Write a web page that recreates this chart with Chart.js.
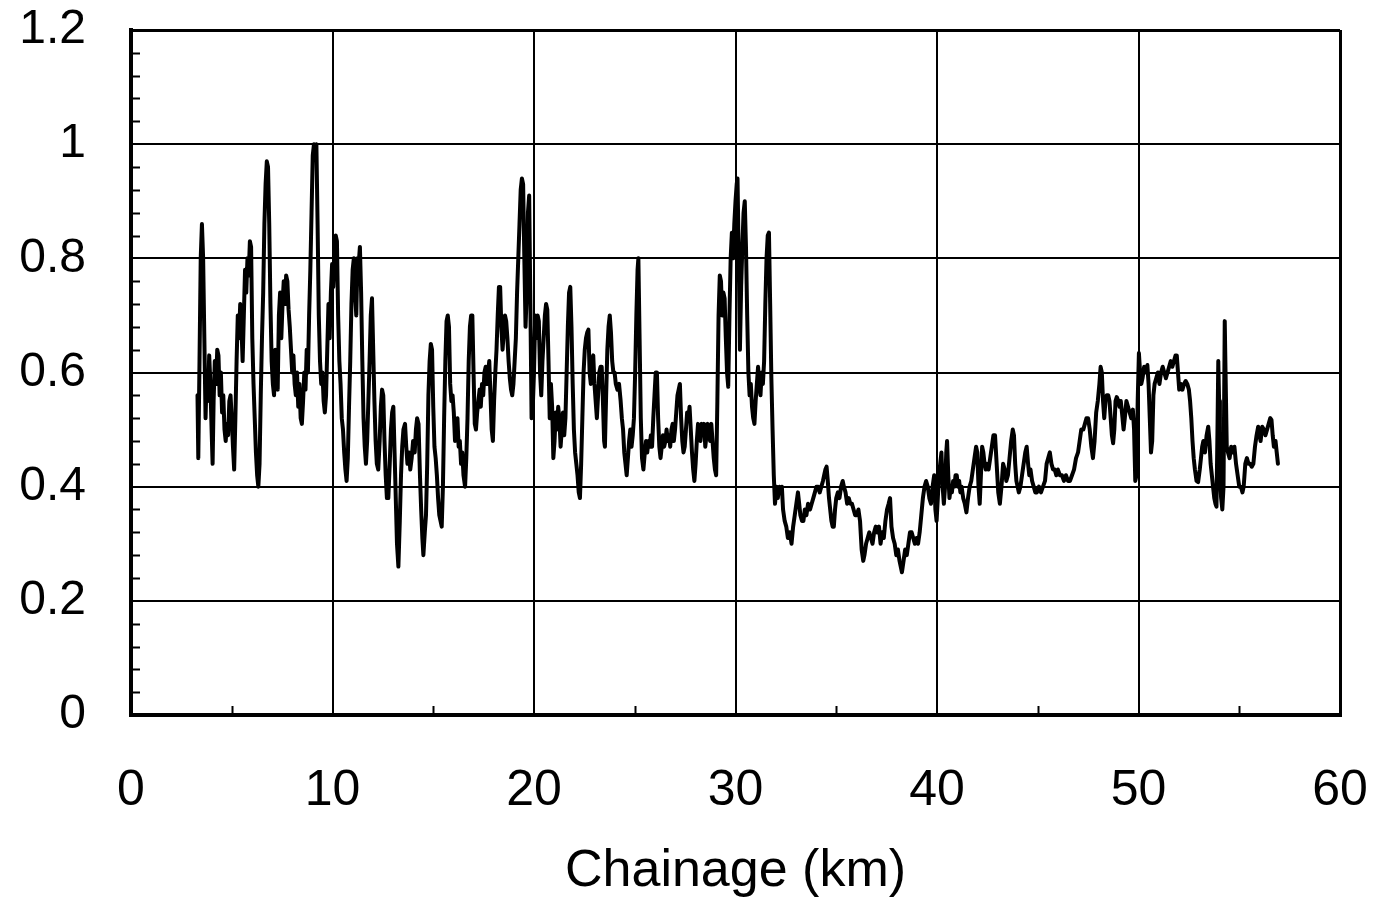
<!DOCTYPE html>
<html>
<head>
<meta charset="utf-8">
<script src="https://cdn.jsdelivr.net/npm/chart.js@4/dist/chart.umd.min.js"></script>
<style>
html,body{margin:0;padding:0;background:#ffffff;}
#wrap{width:1374px;height:904px;}
</style>
</head>
<body>
<div id="wrap"><canvas id="c" width="1374" height="904"></canvas></div>
<script>
// ---- data ----
const chainageKm = [
3.30,3.34,3.40,3.46,3.52,3.58,3.64,3.70,3.76,3.82,3.88,3.94,4.00,4.05,4.10,4.16,4.22,4.28,4.34,4.40,
4.46,4.52,4.58,4.64,4.70,4.76,4.82,4.88,4.94,5.00,5.06,5.12,5.18,5.24,5.30,5.36,5.42,5.48,5.54,5.60,
5.66,5.72,5.78,5.84,5.90,5.96,6.02,6.08,6.14,6.20,6.26,6.32,6.38,6.44,6.50,6.56,6.62,6.68,6.74,6.80,
6.86,6.92,6.98,7.04,7.10,7.16,7.22,7.28,7.34,7.40,7.46,7.52,7.58,7.64,7.70,7.76,7.82,7.88,7.94,8.00,
8.06,8.12,8.18,8.24,8.30,8.36,8.42,8.48,8.54,8.60,8.66,8.72,8.78,8.84,8.90,8.96,9.02,9.08,9.14,9.20,
9.26,9.32,9.38,9.44,9.50,9.56,9.62,9.68,9.74,9.80,9.86,9.92,9.98,10.04,10.10,10.16,10.22,10.28,10.34,10.40,
10.46,10.52,10.58,10.64,10.70,10.76,10.82,10.88,10.94,11.00,11.06,11.12,11.18,11.24,11.30,11.36,11.42,11.48,11.54,11.60,
11.66,11.72,11.78,11.84,11.90,11.96,12.02,12.08,12.14,12.20,12.27,12.34,12.40,12.46,12.52,12.58,12.64,12.70,12.77,12.84,
12.90,12.96,13.02,13.08,13.14,13.20,13.27,13.34,13.40,13.46,13.52,13.60,13.66,13.72,13.80,13.86,13.93,14.00,14.08,14.14,
14.20,14.27,14.34,14.40,14.46,14.51,14.58,14.64,14.70,14.76,14.82,14.88,14.94,15.00,15.06,15.12,15.18,15.24,15.30,15.36,
15.42,15.48,15.54,15.60,15.66,15.72,15.78,15.84,15.90,15.96,16.02,16.08,16.14,16.20,16.26,16.32,16.38,16.44,16.50,16.58,
16.64,16.70,16.76,16.82,16.88,16.94,17.00,17.06,17.12,17.18,17.24,17.30,17.36,17.42,17.48,17.54,17.60,17.66,17.72,17.78,
17.84,17.90,17.96,18.02,18.08,18.14,18.20,18.26,18.32,18.38,18.44,18.50,18.56,18.62,18.68,18.74,18.80,18.86,18.92,18.98,
19.04,19.10,19.16,19.22,19.28,19.34,19.40,19.46,19.52,19.58,19.64,19.70,19.76,19.82,19.88,19.94,20.00,20.06,20.12,20.18,
20.24,20.30,20.36,20.42,20.48,20.54,20.60,20.66,20.72,20.78,20.84,20.90,20.96,21.02,21.08,21.14,21.20,21.26,21.32,21.38,
21.44,21.50,21.56,21.62,21.68,21.74,21.80,21.86,21.92,21.98,22.04,22.10,22.16,22.22,22.28,22.34,22.40,22.46,22.52,22.58,
22.64,22.70,22.76,22.82,22.88,22.94,23.00,23.06,23.12,23.18,23.24,23.30,23.36,23.42,23.48,23.52,23.58,23.64,23.70,23.76,
23.82,23.88,23.94,24.00,24.06,24.14,24.22,24.30,24.36,24.42,24.48,24.54,24.60,24.66,24.72,24.78,24.84,24.90,24.96,25.02,
25.08,25.14,25.18,25.24,25.30,25.36,25.43,25.50,25.56,25.62,25.68,25.74,25.80,25.86,25.92,25.98,26.04,26.10,26.16,26.22,
26.28,26.34,26.40,26.46,26.52,26.58,26.64,26.70,26.76,26.82,26.88,26.94,27.00,27.06,27.12,27.18,27.24,27.30,27.36,27.42,
27.48,27.54,27.60,27.66,27.72,27.78,27.84,27.90,27.96,28.02,28.08,28.14,28.20,28.26,28.32,28.38,28.44,28.50,28.56,28.62,
28.68,28.74,28.80,28.86,28.92,28.98,29.04,29.10,29.16,29.22,29.28,29.34,29.40,29.46,29.52,29.58,29.64,29.70,29.76,29.82,
29.88,29.94,30.00,30.06,30.10,30.16,30.22,30.28,30.34,30.40,30.46,30.52,30.58,30.64,30.70,30.76,30.82,30.88,30.94,31.00,
31.06,31.12,31.18,31.24,31.30,31.36,31.42,31.48,31.54,31.60,31.66,31.72,31.78,31.84,31.90,31.96,32.04,32.10,32.18,32.24,
32.30,32.36,32.44,32.52,32.60,32.70,32.78,32.86,32.94,33.02,33.10,33.16,33.22,33.30,33.37,33.44,33.52,33.60,33.70,33.78,
33.86,33.94,34.02,34.10,34.18,34.26,34.34,34.40,34.46,34.52,34.58,34.64,34.70,34.76,34.82,34.88,34.94,35.00,35.08,35.16,
35.24,35.32,35.38,35.46,35.54,35.62,35.70,35.78,35.86,35.94,36.02,36.10,36.18,36.26,36.34,36.40,36.48,36.56,36.64,36.72,
36.80,36.88,36.96,37.04,37.12,37.20,37.28,37.36,37.44,37.52,37.60,37.67,37.74,37.82,37.90,37.98,38.06,38.14,38.20,38.26,
38.34,38.42,38.50,38.58,38.66,38.74,38.82,38.90,38.98,39.06,39.14,39.22,39.30,39.38,39.46,39.54,39.62,39.70,39.78,39.86,
39.92,39.98,40.04,40.10,40.16,40.22,40.28,40.34,40.40,40.46,40.50,40.56,40.62,40.68,40.74,40.80,40.86,40.92,40.98,41.04,
41.10,41.16,41.22,41.30,41.38,41.46,41.54,41.62,41.70,41.78,41.86,41.94,42.00,42.06,42.12,42.18,42.24,42.30,42.36,42.42,
42.48,42.56,42.64,42.72,42.80,42.88,42.96,43.04,43.12,43.20,43.28,43.36,43.44,43.52,43.60,43.68,43.76,43.82,43.88,43.94,
44.00,44.06,44.14,44.22,44.30,44.38,44.45,44.52,44.58,44.64,44.72,44.80,44.88,44.96,45.06,45.16,45.26,45.36,45.44,45.52,
45.60,45.68,45.76,45.84,45.92,46.00,46.10,46.20,46.30,46.40,46.50,46.60,46.70,46.80,46.90,47.00,47.08,47.16,47.26,47.34,
47.42,47.50,47.58,47.66,47.74,47.82,47.90,47.98,48.06,48.12,48.18,48.24,48.30,48.36,48.42,48.50,48.56,48.62,48.68,48.74,
48.80,48.86,48.92,49.00,49.06,49.12,49.18,49.26,49.32,49.40,49.48,49.56,49.64,49.72,49.78,49.84,49.90,49.96,50.02,50.08,
50.14,50.20,50.28,50.36,50.44,50.50,50.56,50.62,50.68,50.74,50.80,50.88,50.96,51.04,51.12,51.20,51.28,51.36,51.44,51.52,
51.60,51.68,51.76,51.84,51.90,51.96,52.02,52.10,52.18,52.26,52.34,52.42,52.50,52.56,52.62,52.68,52.74,52.80,52.88,52.96,
53.04,53.10,53.16,53.22,53.30,53.38,53.46,53.52,53.58,53.64,53.70,53.76,53.82,53.87,53.92,53.96,54.00,54.04,54.10,54.16,
54.22,54.28,54.32,54.38,54.44,54.52,54.60,54.68,54.76,54.84,54.92,55.00,55.08,55.16,55.22,55.30,55.38,55.46,55.54,55.62,
55.70,55.78,55.86,55.94,56.00,56.06,56.14,56.22,56.30,56.38,56.46,56.54,56.60,56.66,56.72,56.80,56.86,56.92
];
const ratioValues = [
0.56,0.45,0.62,0.80,0.86,0.80,0.66,0.52,0.60,0.55,0.63,0.58,0.50,0.44,0.55,0.62,0.58,0.64,0.63,0.56,
0.60,0.53,0.56,0.50,0.48,0.51,0.49,0.55,0.56,0.52,0.47,0.43,0.52,0.62,0.70,0.66,0.72,0.68,0.62,0.70,
0.78,0.74,0.80,0.77,0.83,0.82,0.66,0.58,0.52,0.46,0.42,0.40,0.44,0.56,0.66,0.74,0.86,0.93,0.97,0.96,
0.86,0.72,0.62,0.58,0.56,0.64,0.62,0.57,0.70,0.74,0.66,0.72,0.76,0.72,0.77,0.76,0.71,0.68,0.64,0.60,
0.63,0.58,0.56,0.60,0.54,0.58,0.52,0.51,0.55,0.60,0.57,0.64,0.60,0.70,0.78,0.88,0.98,1.00,0.99,1.00,
0.86,0.70,0.62,0.58,0.60,0.55,0.53,0.56,0.64,0.72,0.66,0.74,0.79,0.75,0.80,0.84,0.83,0.70,0.62,0.58,
0.52,0.50,0.46,0.43,0.41,0.45,0.54,0.62,0.72,0.78,0.80,0.74,0.70,0.80,0.79,0.82,0.74,0.62,0.52,0.47,
0.44,0.48,0.55,0.62,0.70,0.73,0.64,0.55,0.48,0.44,0.43,0.48,0.54,0.57,0.56,0.48,0.42,0.38,0.38,0.44,
0.50,0.53,0.54,0.46,0.38,0.30,0.26,0.34,0.42,0.47,0.50,0.51,0.47,0.44,0.46,0.43,0.45,0.48,0.46,0.50,
0.52,0.51,0.42,0.36,0.31,0.28,0.32,0.35,0.44,0.56,0.62,0.65,0.64,0.54,0.47,0.45,0.42,0.38,0.35,0.34,
0.33,0.40,0.52,0.62,0.69,0.70,0.68,0.58,0.55,0.56,0.53,0.48,0.50,0.52,0.47,0.48,0.44,0.46,0.42,0.40,
0.45,0.52,0.62,0.68,0.70,0.70,0.60,0.51,0.50,0.53,0.55,0.57,0.54,0.58,0.56,0.60,0.61,0.58,0.60,0.62,
0.56,0.50,0.48,0.55,0.60,0.64,0.70,0.75,0.75,0.68,0.64,0.67,0.70,0.69,0.66,0.62,0.59,0.57,0.56,0.58,
0.62,0.66,0.74,0.80,0.86,0.92,0.94,0.93,0.80,0.68,0.74,0.88,0.91,0.72,0.52,0.54,0.60,0.70,0.66,0.70,
0.69,0.60,0.56,0.62,0.66,0.70,0.72,0.71,0.62,0.52,0.58,0.54,0.45,0.48,0.53,0.50,0.54,0.52,0.47,0.50,
0.53,0.49,0.52,0.60,0.68,0.74,0.75,0.68,0.58,0.50,0.46,0.44,0.42,0.39,0.38,0.44,0.52,0.60,0.64,0.66,
0.67,0.675,0.60,0.58,0.62,0.63,0.58,0.55,0.52,0.56,0.60,0.61,0.61,0.55,0.48,0.47,0.56,0.64,0.68,0.70,
0.67,0.62,0.60,0.60,0.58,0.57,0.58,0.55,0.52,0.50,0.46,0.44,0.42,0.45,0.48,0.50,0.47,0.49,0.52,0.60,
0.70,0.78,0.80,0.66,0.52,0.45,0.43,0.46,0.48,0.46,0.48,0.47,0.49,0.47,0.52,0.56,0.60,0.60,0.52,0.47,
0.45,0.47,0.49,0.47,0.48,0.50,0.48,0.49,0.47,0.50,0.51,0.48,0.50,0.53,0.56,0.57,0.58,0.52,0.48,0.46,
0.47,0.50,0.53,0.52,0.54,0.50,0.46,0.43,0.41,0.44,0.48,0.51,0.50,0.48,0.51,0.49,0.51,0.47,0.49,0.51,
0.50,0.48,0.51,0.48,0.45,0.43,0.42,0.55,0.70,0.77,0.76,0.70,0.74,0.73,0.66,0.60,0.575,0.70,0.80,0.845,
0.80,0.86,0.90,0.93,0.94,0.80,0.64,0.75,0.82,0.88,0.90,0.82,0.70,0.60,0.56,0.58,0.54,0.52,0.51,0.55,
0.58,0.61,0.58,0.56,0.60,0.58,0.62,0.72,0.80,0.84,0.845,0.72,0.59,0.50,0.42,0.37,0.40,0.38,0.40,0.39,
0.40,0.36,0.34,0.33,0.31,0.32,0.30,0.33,0.35,0.37,0.39,0.37,0.35,0.34,0.34,0.36,0.35,0.37,0.36,0.37,
0.38,0.39,0.40,0.40,0.39,0.40,0.41,0.42,0.43,0.435,0.41,0.38,0.36,0.34,0.33,0.33,0.36,0.38,0.39,0.38,
0.40,0.41,0.40,0.39,0.37,0.38,0.37,0.37,0.36,0.35,0.35,0.36,0.34,0.29,0.27,0.28,0.30,0.31,0.32,0.31,
0.30,0.32,0.33,0.32,0.33,0.30,0.32,0.31,0.34,0.36,0.37,0.38,0.33,0.31,0.30,0.28,0.29,0.27,0.26,0.25,
0.27,0.29,0.28,0.30,0.32,0.32,0.31,0.30,0.31,0.30,0.32,0.35,0.38,0.40,0.41,0.40,0.38,0.37,0.40,0.42,
0.36,0.34,0.38,0.42,0.44,0.46,0.40,0.37,0.40,0.46,0.48,0.42,0.38,0.40,0.39,0.41,0.40,0.42,0.42,0.40,
0.41,0.39,0.40,0.38,0.37,0.355,0.38,0.40,0.41,0.43,0.45,0.47,0.46,0.40,0.37,0.42,0.47,0.46,0.44,0.43,
0.44,0.43,0.45,0.47,0.49,0.49,0.44,0.39,0.37,0.40,0.44,0.43,0.41,0.42,0.45,0.48,0.50,0.49,0.44,0.41,
0.40,0.39,0.40,0.42,0.44,0.46,0.47,0.44,0.42,0.43,0.41,0.40,0.39,0.39,0.40,0.39,0.40,0.41,0.44,0.45,
0.46,0.44,0.43,0.43,0.42,0.43,0.42,0.42,0.41,0.42,0.41,0.41,0.42,0.43,0.45,0.46,0.48,0.50,0.50,0.51,
0.52,0.52,0.50,0.47,0.45,0.48,0.53,0.55,0.58,0.61,0.60,0.55,0.52,0.55,0.56,0.56,0.55,0.52,0.49,0.476,
0.50,0.55,0.557,0.55,0.54,0.55,0.53,0.50,0.52,0.55,0.54,0.53,0.52,0.535,0.50,0.41,0.42,0.55,0.634,0.60,
0.58,0.59,0.61,0.60,0.613,0.58,0.52,0.46,0.48,0.56,0.58,0.59,0.60,0.58,0.60,0.61,0.60,0.59,0.60,0.61,
0.62,0.61,0.62,0.63,0.63,0.60,0.57,0.58,0.57,0.58,0.585,0.58,0.57,0.55,0.52,0.48,0.45,0.43,0.41,0.408,
0.43,0.45,0.47,0.48,0.46,0.49,0.505,0.48,0.44,0.42,0.40,0.38,0.37,0.365,0.50,0.62,0.55,0.42,0.38,0.36,
0.40,0.69,0.60,0.47,0.46,0.45,0.47,0.46,0.47,0.44,0.42,0.40,0.40,0.39,0.40,0.44,0.45,0.44,0.44,0.435,
0.44,0.47,0.49,0.505,0.49,0.48,0.505,0.50,0.49,0.50,0.51,0.52,0.517,0.49,0.47,0.48,0.46,0.44
];
const xTickValues = [0, 10, 20, 30, 40, 50, 60];
const xMinorTickValues = [5, 15, 25, 35, 45, 55];
const yTickValues = [0, 0.2, 0.4, 0.6, 0.8, 1, 1.2];
const yTickLabels = ['0', '0.2', '0.4', '0.6', '0.8', '1', '1.2'];
const yMinorTickValues = [0.04,0.08,0.12,0.16,0.24,0.28,0.32,0.36,0.44,0.48,0.52,0.56,0.64,0.68,0.72,0.76,0.84,0.88,0.92,0.96,1.04,1.08,1.12,1.16];
const xAxisTitle = 'Chainage (km)';

const points = chainageKm.map((km, i) => ({ x: km, y: ratioValues[i] }));

const minorTicks = {
  id: 'minorTicks',
  afterDatasetsDraw(chart) {
    const { ctx, chartArea, scales } = chart;
    ctx.save();
    ctx.strokeStyle = '#000';
    ctx.lineWidth = 2;
    ctx.beginPath();
    yMinorTickValues.forEach(v => {
      const py = Math.round(scales.y.getPixelForValue(v)) + 0.5;
      ctx.moveTo(chartArea.left, py);
      ctx.lineTo(chartArea.left + 9, py);
    });
    xMinorTickValues.forEach(v => {
      const px = Math.round(scales.x.getPixelForValue(v)) + 0.5;
      ctx.moveTo(px, chartArea.bottom);
      ctx.lineTo(px, chartArea.bottom - 9);
    });
    ctx.stroke();
    ctx.restore();
  }
};

const FONT = "'Liberation Sans', Arial, Helvetica, sans-serif";

new Chart(document.getElementById('c'), {
  type: 'line',
  data: {
    datasets: [{
      data: points,
      borderColor: '#000',
      borderWidth: 4,
      borderJoinStyle: 'round',
      borderCapStyle: 'round',
      pointRadius: 0,
      tension: 0,
      fill: false
    }]
  },
  options: {
    responsive: false,
    animation: false,
    devicePixelRatio: 1,
    layout: { padding: { left: 0, right: 34, top: 30, bottom: 0 } },
    plugins: { legend: { display: false }, tooltip: { enabled: false }, title: { display: false } },
    scales: {
      x: {
        type: 'linear',
        min: 0, max: 60,
        afterBuildTicks(s) { s.ticks = xTickValues.map(v => ({ value: v })); },
        afterFit(s) { s.height = 189; s.paddingLeft = 0; s.paddingRight = 0; },
        grid: {
          color: '#000',
          lineWidth: c => (c.tick && (c.tick.value === 0 || c.tick.value === 60)) ? 3 : 2,
          drawTicks: false
        },
        border: { display: true, color: '#000', width: 4 },
        ticks: {
          autoSkip: false, maxRotation: 0, color: '#000', padding: 46,
          font: { family: FONT, size: 50 },
          callback: v => String(v)
        },
        title: {
          display: true, text: xAxisTitle, color: '#000',
          font: { family: FONT, size: 52 },
          padding: { top: 0, bottom: 1 }
        }
      },
      y: {
        type: 'linear',
        min: 0, max: 1.2,
        afterBuildTicks(s) { s.ticks = yTickValues.map(v => ({ value: v })); },
        afterFit(s) { s.width = 131; s.paddingTop = 0; s.paddingBottom = 0; },
        grid: {
          color: '#000',
          lineWidth: c => (c.tick && (c.tick.value === 1.2)) ? 3 : 2,
          drawTicks: false
        },
        border: { display: true, color: '#000', width: 4 },
        ticks: {
          autoSkip: false, color: '#000', padding: 45,
          font: { family: FONT, size: 48 },
          callback: (v, i) => yTickLabels[i]
        }
      }
    }
  },
  plugins: [minorTicks]
});
</script>
</body>
</html>
